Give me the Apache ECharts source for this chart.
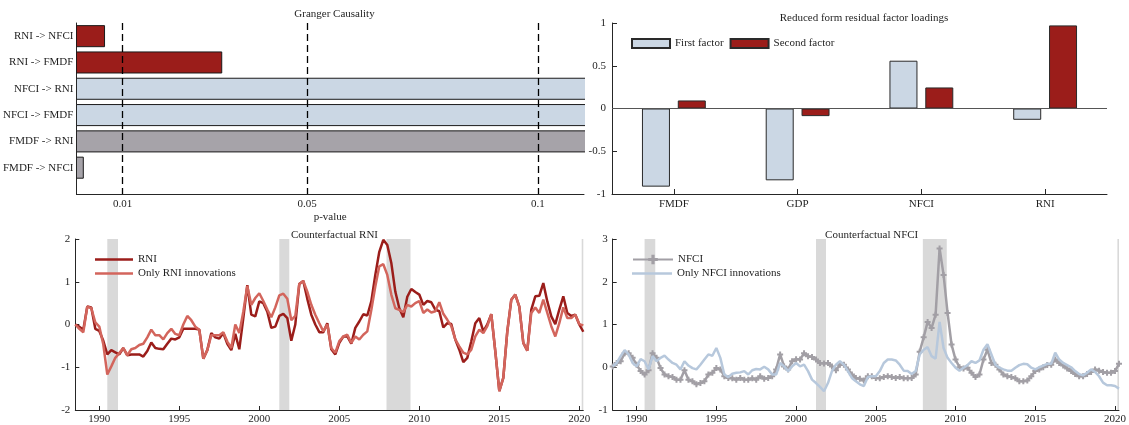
<!DOCTYPE html>
<html><head><meta charset="utf-8">
<script src="https://cdn.jsdelivr.net/npm/echarts@6/dist/echarts.min.js"></script>
<style>html,body{margin:0;padding:0;background:#fff}#c{width:1129px;height:425px}</style>
</head><body><div id="c"></div>
<script>
// ---------------- data ----------------
const grangerPairs = ['RNI -> NFCI', 'RNI -> FMDF', 'NFCI -> RNI', 'NFCI -> FMDF', 'FMDF -> RNI', 'FMDF -> NFCI'];
const grangerPValues = [0.0061, 0.0315, 0.62, 0.45, 0.38, 0.0015];
const grangerTicks = [0.01, 0.05, 0.1];

const loadingVars = ['FMDF', 'GDP', 'NFCI', 'RNI'];
const firstFactor = [-0.914, -0.84, 0.559, -0.132];
const secondFactor = [0.094, -0.089, 0.246, 0.972];

const quarterStart = 1988.5; // 1988Q3, quarterly observations
const rni = [
  0.00, -0.05,
  -0.12, 0.42, 0.40, -0.10,
  -0.15, -0.38, -0.70, -0.60,
  -0.65, -0.70, -0.55, -0.72,
  -0.70, -0.70, -0.70, -0.75,
  -0.62, -0.42, -0.55, -0.57,
  -0.58, -0.45, -0.33, -0.35,
  -0.30, -0.10, -0.10, -0.10,
  -0.10, -0.12, -0.80, -0.60,
  -0.20, -0.30, -0.33, -0.20,
  -0.45, -0.60, -0.22, -0.58,
  0.15, 0.92, 0.23, 0.19,
  0.54, 0.50, 0.30, -0.08,
  -0.05, 0.20, 0.25, 0.15,
  -0.38, 0.00, 0.95, 1.02,
  0.60, 0.23, 0.00, -0.18,
  -0.18, 0.03, -0.58, -0.70,
  -0.43, -0.28, -0.28, -0.45,
  -0.08, 0.07, 0.24, 0.21,
  0.54, 1.16, 1.70, 1.98,
  1.86, 1.44, 0.77, 0.38,
  0.17, 0.65, 0.83, 0.76,
  0.70, 0.46, 0.55, 0.52,
  0.35, 0.31, -0.07, 0.03,
  0.01, -0.35, -0.59, -0.88,
  -0.78, -0.39, 0.03, 0.15,
  -0.16, 0.00, 0.24, -0.63,
  -1.56, -1.25, -0.16, 0.58,
  0.70, 0.42, -0.43, -0.61,
  0.35, 0.66, 0.67, 0.97,
  0.54, 0.19, 0.01, 0.35,
  0.66, 0.27, 0.20, 0.23,
  0.00, -0.17
];
const rniOnly = [
  0.00, -0.10,
  -0.18, 0.42, 0.38, 0.05,
  -0.05, -0.47, -1.17, -0.98,
  -0.78, -0.67, -0.55, -0.72,
  -0.58, -0.55, -0.48, -0.45,
  -0.30, -0.12, -0.25, -0.25,
  -0.35, -0.20, -0.10, -0.22,
  -0.25, 0.00, 0.20, 0.10,
  -0.05, -0.12, -0.80, -0.60,
  -0.25, -0.25, -0.25, -0.18,
  -0.40, -0.55, 0.00, -0.20,
  0.30, 0.90, 0.46, 0.62,
  0.73, 0.55, 0.35, 0.17,
  0.40, 0.68, 0.72, 0.60,
  0.10, 0.20, 0.95, 1.02,
  0.77, 0.46, 0.23, 0.03,
  -0.16, 0.00, -0.55, -0.66,
  -0.39, -0.28, -0.24, -0.43,
  -0.28, -0.35, -0.24, -0.16,
  0.34, 0.89, 1.36, 1.41,
  1.16, 0.70, 0.38, 0.34,
  0.29, 0.46, 0.42, 0.50,
  0.55, 0.27, 0.35, 0.28,
  0.31, 0.52, 0.25, 0.11,
  -0.04, -0.35, -0.51, -0.66,
  -0.70, -0.59, -0.28, -0.12,
  -0.20, -0.04, 0.24, -0.63,
  -1.56, -1.25, -0.16, 0.58,
  0.70, 0.42, -0.43, -0.61,
  0.27, 0.40, 0.27, 0.58,
  0.27, -0.04, -0.28, 0.03,
  0.40, 0.15, 0.15, 0.23,
  0.01, -0.02
];
const nfci = [
  0.02, 0.10,
  0.14, 0.33, 0.33, 0.22,
  0.06, -0.09, -0.17, -0.07,
  0.33, 0.22, -0.02, -0.17,
  -0.21, -0.23, -0.29, -0.29,
  -0.07, -0.29, -0.33, -0.40,
  -0.37, -0.33, -0.17, -0.13,
  -0.02, -0.05, -0.21, -0.25,
  -0.26, -0.29, -0.25, -0.29,
  -0.29, -0.26, -0.29, -0.21,
  -0.27, -0.25, -0.21, -0.05,
  0.30, 0.02, -0.05, 0.14,
  0.19, 0.18, 0.33, 0.26,
  0.24, 0.18, 0.10, 0.09,
  0.10, 0.02, -0.07, 0.06,
  0.06, -0.05, -0.17, -0.25,
  -0.27, -0.31, -0.21, -0.21,
  -0.25, -0.26, -0.23, -0.21,
  -0.23, -0.25, -0.23, -0.26,
  -0.26, -0.25, -0.17, 0.36,
  0.70, 1.06, 0.92, 1.23,
  2.78, 2.16, 1.27, 0.53,
  0.18, 0.00, -0.03, -0.01,
  -0.13, -0.23, -0.17, 0.18,
  0.41, 0.10, 0.06, -0.05,
  -0.17, -0.21, -0.23, -0.26,
  -0.33, -0.33, -0.31, -0.21,
  -0.09, -0.05, 0.00, 0.05,
  0.06, 0.18, 0.10, 0.04,
  -0.03, -0.09, -0.16, -0.21,
  -0.21, -0.16, -0.11, -0.05,
  -0.08, -0.11, -0.13, -0.13,
  -0.09, 0.08
];
const nfciOnly = [
  0.02, 0.10,
  0.26, 0.40, 0.30, 0.10,
  0.02, 0.19, 0.14, -0.05,
  0.26, 0.14, 0.22, 0.27,
  0.18, 0.10, 0.06, -0.05,
  0.14, 0.04, -0.02, -0.05,
  0.06, 0.18, 0.30, 0.27,
  0.45, 0.22, -0.17, -0.23,
  -0.15, -0.13, -0.12, -0.09,
  -0.17, -0.07, -0.04, -0.05,
  0.01, -0.05, -0.17, -0.17,
  0.10, 0.02, -0.09, 0.02,
  0.10, 0.02, 0.06, -0.09,
  -0.29, -0.37, -0.46, -0.56,
  -0.37, -0.09, 0.06, 0.14,
  0.06, -0.09, -0.25, -0.33,
  -0.40, -0.44, -0.23, -0.21,
  -0.21, -0.09, 0.10, 0.18,
  0.18, 0.16, 0.06, -0.08,
  -0.09, -0.16, -0.09, 0.30,
  0.41, 0.47, 0.26, 0.20,
  1.06, 0.45, 0.22, 0.10,
  -0.01, -0.08, -0.01, 0.05,
  0.14, 0.10, 0.16, 0.41,
  0.54, 0.30, 0.06, -0.01,
  -0.05, -0.08, -0.08, -0.01,
  0.05, 0.08, 0.07, -0.01,
  -0.05, 0.00, 0.04, 0.08,
  0.08, 0.34, 0.18, 0.10,
  0.05, 0.00, -0.09, -0.16,
  -0.19, -0.13, -0.05, -0.11,
  -0.21, -0.36, -0.42, -0.42,
  -0.44, -0.50
];
const recessions = [[1990.5, 1991.17], [2001.25, 2001.875], [2007.95, 2009.45], [2020.15, 2020.25]];
const yearTicks = [1990, 1995, 2000, 2005, 2010, 2015, 2020];

// ---------------- styles ----------------
const FONT = 'Liberation Serif';
const TXT = '#1f1f1f';
const AX = '#262626';
const RED = '#9b1d1a', LRED = '#d3655c', BLUE = '#cbd7e4', GRAYBAR = '#a6a3a9';
const NGRAY = '#a29fa5', LBLUE = '#b7c8dc', BAND = '#d9d9d9';
const causeColors = { RNI: RED, NFCI: BLUE, FMDF: GRAYBAR };
const plusPath = 'path://M2,0H4V2H6V4H4V6H2V4H0V2H2Z';

const quarters = rni.map((_, i) => quarterStart + i * 0.25);
const pairs = (vals) => vals.map((v, i) => [quarters[i], v]);

const axisLineStyle = { show: true, onZero: false, lineStyle: { color: AX, width: 1 } };
const lbl = (extra) => Object.assign({ color: TXT, fontFamily: FONT, fontSize: 11 }, extra || {});

const chart = echarts.init(document.getElementById('c'), null, { renderer: 'canvas' });

const bandSeries = (xi) => ({
  type: 'line', xAxisIndex: xi, yAxisIndex: xi, data: [], silent: true, z: 1,
  markArea: {
    silent: true, itemStyle: { color: BAND }, label: { show: false },
    data: recessions.map(r => [{ xAxis: r[0] }, { xAxis: r[1] }])
  }
});

const lineLegend = (name, left, top) => ({
  data: [name], left: left, top: top, orient: 'vertical', icon: 'rect',
  itemWidth: 38, itemHeight: 2.5, textStyle: lbl({ padding: [0, 0, 0, 0] }), selectedMode: false
});

chart.setOption({
  animation: false,
  backgroundColor: '#fff',
  textStyle: { fontFamily: FONT, color: TXT },
  title: [
    { text: 'Granger Causality', left: 329.5, top: 4, textAlign: 'center', textStyle: lbl({ fontWeight: 'normal' }) },
    { text: 'Reduced form residual factor loadings', left: 859, top: 8, textAlign: 'center', textStyle: lbl({ fontWeight: 'normal' }) },
    { text: 'Counterfactual RNI', left: 329.5, top: 225, textAlign: 'center', textStyle: lbl({ fontWeight: 'normal' }) },
    { text: 'Counterfactual NFCI', left: 866.7, top: 225, textAlign: 'center', textStyle: lbl({ fontWeight: 'normal' }) }
  ],
  legend: [
    {
      data: ['First factor', 'Second factor'], left: 626, top: 33, orient: 'horizontal',
      itemWidth: 38, itemHeight: 9, itemGap: 6, icon: 'rect', textStyle: lbl(), selectedMode: false
    },
    lineLegend('RNI', 90, 249),
    lineLegend('Only RNI innovations', 90, 263),
    {
      data: ['NFCI'], left: 627, top: 249, orient: 'vertical',
      itemWidth: 40, itemHeight: 12, textStyle: lbl(), selectedMode: false
    },
    Object.assign(lineLegend('Only NFCI innovations', 627, 263), { itemWidth: 40 })
  ],
  grid: [
    { left: 75, top: 23, width: 509, height: 171 },
    { left: 612, top: 23, width: 495, height: 171 },
    { left: 75.3, top: 239, width: 508, height: 171.5 },
    { left: 612.7, top: 239, width: 508, height: 171.5 }
  ],
  xAxis: [
    {
      gridIndex: 0, type: 'value', min: 0, max: 0.11,
      axisLine: axisLineStyle, axisTick: { show: false }, splitLine: { show: false },
      axisLabel: lbl({ customValues: grangerTicks, margin: 5, formatter: v => String(v) }),
      name: 'p-value', nameLocation: 'middle', nameGap: 18, nameTextStyle: lbl()
    },
    {
      gridIndex: 1, type: 'category', data: loadingVars,
      axisLine: axisLineStyle,
      axisTick: { show: true, inside: true, alignWithLabel: true, length: 5, lineStyle: { color: AX } },
      axisLabel: lbl({ margin: 5 }), splitLine: { show: false }
    },
    {
      gridIndex: 2, type: 'value', min: 1988.5, max: 2020.25,
      axisLine: axisLineStyle,
      axisTick: { show: true, inside: true, length: 4, customValues: yearTicks, lineStyle: { color: AX } },
      axisLabel: lbl({ customValues: yearTicks, margin: 4, formatter: v => String(v) }), splitLine: { show: false }
    },
    {
      gridIndex: 3, type: 'value', min: 1988.5, max: 2020.25,
      axisLine: axisLineStyle,
      axisTick: { show: true, inside: true, length: 4, customValues: yearTicks, lineStyle: { color: AX } },
      axisLabel: lbl({ customValues: yearTicks, margin: 4, formatter: v => String(v) }), splitLine: { show: false }
    }
  ],
  yAxis: [
    {
      gridIndex: 0, type: 'value', min: 0.5, max: 7, inverse: true,
      axisLine: axisLineStyle,
      axisTick: { show: true, inside: true, length: 5, customValues: [1, 2, 3, 4, 5, 6], lineStyle: { color: AX } },
      axisLabel: lbl({ customValues: [1, 2, 3, 4, 5, 6], margin: 3, formatter: v => grangerPairs[Math.round(v) - 1] }),
      splitLine: { show: false }
    },
    {
      gridIndex: 1, type: 'value', min: -1, max: 1, interval: 0.5,
      axisLine: axisLineStyle,
      axisTick: { show: true, inside: true, length: 5, lineStyle: { color: AX } },
      axisLabel: lbl({ margin: 6, formatter: v => String(v) }), splitLine: { show: false }
    },
    {
      gridIndex: 2, type: 'value', min: -2, max: 2, interval: 1,
      axisLine: axisLineStyle,
      axisTick: { show: true, inside: true, length: 4, lineStyle: { color: AX } },
      axisLabel: lbl({ margin: 5 }), splitLine: { show: false }
    },
    {
      gridIndex: 3, type: 'value', min: -1, max: 3, interval: 1,
      axisLine: axisLineStyle,
      axisTick: { show: true, inside: true, length: 4, lineStyle: { color: AX } },
      axisLabel: lbl({ margin: 5 }), splitLine: { show: false }
    }
  ],
  series: [
    {
      name: 'Granger', type: 'custom', xAxisIndex: 0, yAxisIndex: 0, clip: true, z: 2,
      data: grangerPValues.map((p, i) => [p, i + 1]),
      encode: { x: 0, y: 1 },
      renderItem: (params, api) => {
        const p = api.value(0), pos = api.value(1);
        const a = api.coord([0, pos]), b = api.coord([p, pos]);
        const h = api.size([0, 1])[1] * 0.8;
        const cause = grangerPairs[params.dataIndex].split(' ')[0];
        return {
          type: 'rect',
          shape: { x: a[0], y: a[1] - h / 2, width: b[0] - a[0], height: h },
          style: { fill: causeColors[cause], stroke: '#1a1a1a', lineWidth: 1 }
        };
      },
      markLine: {
        silent: true, symbol: 'none', label: { show: false }, z: 5,
        lineStyle: { color: '#000', type: [7, 4], width: 1.3 },
        data: grangerTicks.map(v => ({ xAxis: v }))
      }
    },
    {
      name: 'First factor', type: 'bar', xAxisIndex: 1, yAxisIndex: 1, data: firstFactor,
      barWidth: 28, barGap: '28%',
      itemStyle: { color: BLUE, borderColor: '#2a2a2a', borderWidth: 1 },
      markLine: {
        silent: true, symbol: 'none', label: { show: false },
        lineStyle: { color: '#555', type: 'solid', width: 1 },
        data: [{ yAxis: 0 }]
      }
    },
    {
      name: 'Second factor', type: 'bar', xAxisIndex: 1, yAxisIndex: 1, data: secondFactor,
      barWidth: 28, barGap: '28%',
      itemStyle: { color: RED, borderColor: '#2a2a2a', borderWidth: 1 }
    },
    bandSeries(2),
    {
      name: 'RNI', type: 'line', xAxisIndex: 2, yAxisIndex: 2, data: pairs(rni), z: 3,
      symbol: 'none', lineStyle: { color: RED, width: 2.5 }, itemStyle: { color: RED }
    },
    {
      name: 'Only RNI innovations', type: 'line', xAxisIndex: 2, yAxisIndex: 2, data: pairs(rniOnly), z: 4,
      symbol: 'none', lineStyle: { color: LRED, width: 2.5 }, itemStyle: { color: LRED }
    },
    bandSeries(3),
    {
      name: 'NFCI', type: 'line', xAxisIndex: 3, yAxisIndex: 3, data: pairs(nfci), z: 3,
      symbol: plusPath, symbolSize: 6, showSymbol: true,
      lineStyle: { color: NGRAY, width: 2.5 }, itemStyle: { color: NGRAY }
    },
    {
      name: 'Only NFCI innovations', type: 'line', xAxisIndex: 3, yAxisIndex: 3, data: pairs(nfciOnly), z: 4,
      symbol: 'none', lineStyle: { color: LBLUE, width: 2.5 }, itemStyle: { color: LBLUE }
    }
  ]
});
</script>
</body></html>
